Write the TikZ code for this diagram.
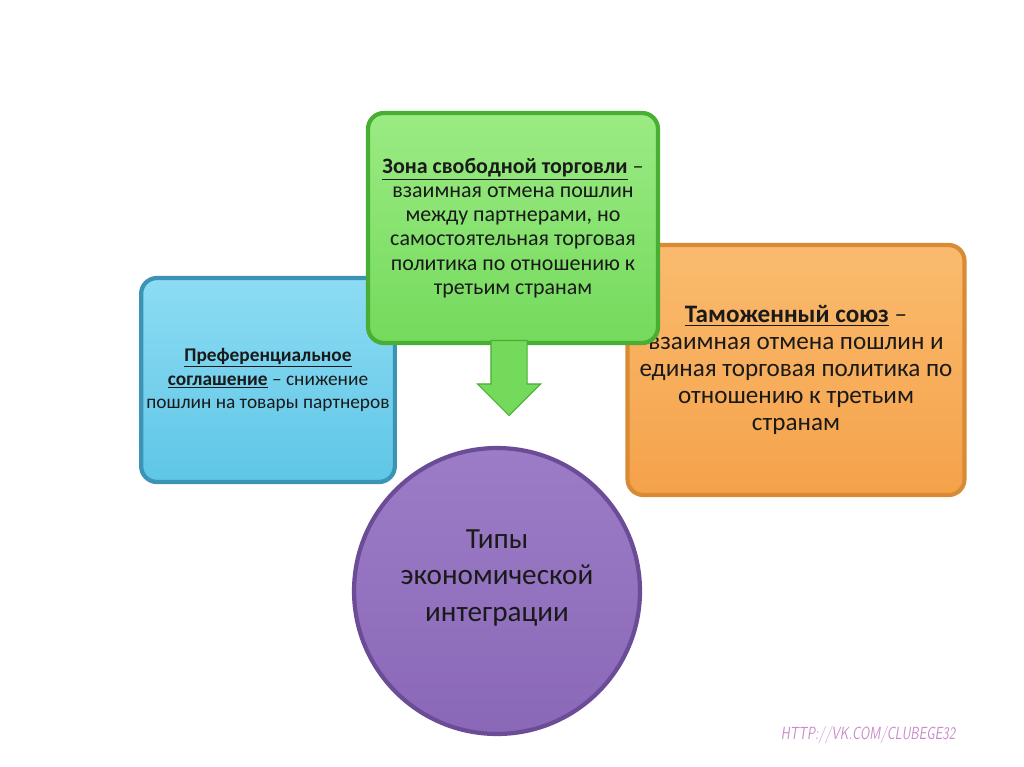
\documentclass[tikz,border=0pt]{standalone}
\usepackage{fontspec}
\setmainfont{Carlito}
\usepackage{xcolor}
\usepackage{tikz}
\usetikzlibrary{shapes.arrows}
\definecolor{ecText}{HTML}{1A1A1A}
\definecolor{ecBlue}{HTML}{5FC6E6}
\definecolor{ecBlueLight}{HTML}{8DDCF3}
\definecolor{ecBlueDark}{HTML}{3B93B5}
\definecolor{ecGreen}{HTML}{74DA5C}
\definecolor{ecGreenLight}{HTML}{9BEB83}
\definecolor{ecGreenDark}{HTML}{49AE34}
\definecolor{ecOrange}{HTML}{F5A24A}
\definecolor{ecOrangeLight}{HTML}{FABB6E}
\definecolor{ecOrangeDark}{HTML}{D88A34}
\definecolor{ecPurple}{HTML}{8A68B8}
\definecolor{ecPurpleLight}{HTML}{9C7CC6}
\definecolor{ecPurpleDark}{HTML}{6B4C96}
\definecolor{ecMark}{HTML}{C98BC9}
\newcommand{\term}[1]{\underline{\textbf{#1}}}

\begin{document}
\begin{tikzpicture}[
  x=0.02cm, y=-0.02cm,
  box/.style={rounded corners=9pt, line width=2.4pt, align=center, inner sep=3pt, text=ecText},
  pref/.style={box, draw=ecBlueDark, top color=ecBlueLight, bottom color=ecBlue,
               minimum width=4.94cm, minimum height=4.08cm, font=\fontsize{11}{13.6}\selectfont},
  zona/.style={box, draw=ecGreenDark, top color=ecGreenLight, bottom color=ecGreen,
               minimum width=5.8cm, minimum height=4.6cm, font=\fontsize{12.5}{13.8}\selectfont},
  soyuz/.style={box, draw=ecOrangeDark, top color=ecOrangeLight, bottom color=ecOrange,
                minimum width=6.74cm, minimum height=5.0cm, font=\fontsize{14.3}{15.4}\selectfont},
  tipy/.style={circle, draw=ecPurpleDark, line width=2.4pt, top color=ecPurpleLight, bottom color=ecPurple,
               minimum size=5.72cm, align=center, text=ecText, font=\fontsize{16.6}{20.5}\selectfont},
  strel/.style={single arrow, draw=ecGreenDark, line width=0.6pt, fill=ecGreen, rotate=-90,
                minimum height=1.5cm, inner sep=0.35cm, single arrow head extend=0.27cm},
]

% ── Centre circle (sits behind the boxes) ──────────────────────────────────
\node[tipy] (tipy) at (497,591) {Типы\\экономической\\интеграции\\[-3pt]};

% ── Three boxes: customs union, preferential, free trade on top ───────────
\node[soyuz] (soyuz) at (796,370)
  {\term{Таможенный союз} –\\взаимная отмена пошлин и\\единая торговая политика по\\отношению к третьим\\странам};
\node[pref] (pref) at (268,380)
  {\term{Преференциальное}\\\term{соглашение} – снижение\\пошлин на товары партнеров};
\node[zona] (zona) at (513,228)
  {\term{Зона свободной торговли} –\\взаимная отмена пошлин\\между партнерами, но\\самостоятельная торговая\\политика по отношению к\\третьим странам};

% ── Block arrow down to the circle ─────────────────────────────────────────
\node[strel] (strel) at (509,369) {};

% ── Watermark ──────────────────────────────────────────────────────────────
\node[text=ecMark, font=\sffamily\itshape] (mark) at (868,735) {\scalebox{0.72}[1]{HTTP://VK.COM/CLUBEGE32}};

\useasboundingbox (0,0) rectangle (1024,767);
\end{tikzpicture}
\end{document}
